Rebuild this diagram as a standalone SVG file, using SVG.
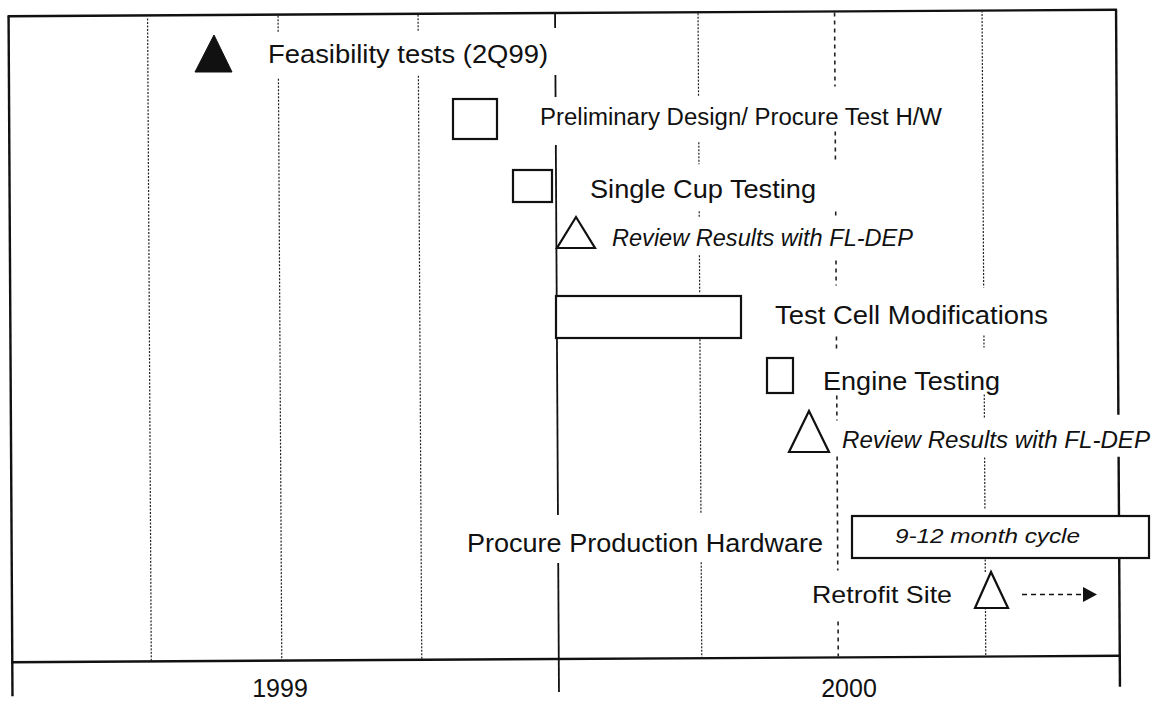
<svg xmlns="http://www.w3.org/2000/svg" width="1153" height="703" viewBox="0 0 1153 703">
<style>
  .t{font-family:"Liberation Sans",Arial,Helvetica,sans-serif;fill:#111;}
  .i{font-style:italic;}
  .shape{fill:#fff;stroke:#111;stroke-width:2.2;}
  .frame{stroke:#111;stroke-width:2.4;fill:none;}
  .solid{stroke:#111;stroke-width:1.8;}
  .dot{stroke:#222;stroke-width:1.2;stroke-dasharray:2 1.5;}
  .dash{stroke:#222;stroke-width:1.6;stroke-dasharray:4 4;}
</style>
<defs>
  <marker id="arrow" markerWidth="14" markerHeight="15" refX="0" refY="7.5" orient="auto" markerUnits="userSpaceOnUse" viewBox="0 0 14 15">
    <path d="M0,0 L14,7.5 L0,15 Z" fill="#111"/>
  </marker>
</defs>
<rect width="1153" height="703" fill="#fff"/>
<g id="grid" transform="rotate(-0.33 563 350)">
  <g id="frame">
    <line class="frame" x1="10.5" y1="13" x2="10.5" y2="693"/>
    <line class="frame" x1="9.5" y1="13" x2="1119" y2="13"/>
    <line class="frame" x1="9.5" y1="659" x2="1119" y2="659"/>
    <line class="frame" x1="1118" y1="13" x2="1118" y2="418"/>
    <line class="frame" x1="1118" y1="460" x2="1118" y2="690"/>
  </g>
  <g id="gridlines">
    <line class="dot" x1="149.5" y1="16" x2="149.5" y2="659"/>
    <line class="dot" x1="280" y1="14" x2="280" y2="30"/>
    <line class="dot" x1="280" y1="77" x2="280" y2="659"/>
    <line class="dot" x1="420" y1="14" x2="420" y2="30"/>
    <line class="dot" x1="420" y1="75" x2="420" y2="659"/>
    <line class="solid" x1="557" y1="13" x2="557" y2="28"/>
    <line class="solid" x1="557" y1="75" x2="557" y2="97"/>
    <line class="solid" x1="557" y1="145" x2="557" y2="515"/>
    <line class="solid" x1="557" y1="563" x2="557" y2="692"/>
    <line class="dot" x1="700" y1="14" x2="700" y2="97"/>
    <line class="dot" x1="700" y1="143" x2="700" y2="165"/>
    <line class="dot" x1="700" y1="212" x2="700" y2="218"/>
    <line class="dot" x1="700" y1="256" x2="700" y2="294"/>
    <line class="dot" x1="700" y1="340" x2="700" y2="514"/>
    <line class="dot" x1="700" y1="563" x2="700" y2="659"/>
    <line class="dash" x1="836.5" y1="14" x2="836.5" y2="88"/>
    <line class="dash" x1="836.5" y1="133" x2="836.5" y2="162"/>
    <line class="dash" x1="836.5" y1="213" x2="836.5" y2="217"/>
    <line class="dash" x1="836.5" y1="262" x2="836.5" y2="287"/>
    <line class="dash" x1="836.5" y1="338" x2="836.5" y2="350"/>
    <line class="dash" x1="836.5" y1="397" x2="836.5" y2="422"/>
    <line class="dash" x1="836.5" y1="458" x2="836.5" y2="572"/>
    <line class="dash" x1="836.5" y1="623" x2="836.5" y2="658"/>
    <line class="dot" x1="984" y1="13" x2="984" y2="290"/>
    <line class="dot" x1="984" y1="338" x2="984" y2="350"/>
    <line class="dot" x1="984" y1="397" x2="984" y2="420"/>
    <line class="dot" x1="984" y1="460" x2="984" y2="512"/>
    <line class="dot" x1="984" y1="562" x2="984" y2="575"/>
    <line class="dot" x1="984" y1="610" x2="984" y2="658"/>
  </g>
</g>
<g id="feasibility">
  <polygon points="214,35 195,72 232,72" fill="#111" stroke="#111" stroke-width="1"/>
  <text class="t" x="268" y="63" font-size="25" textLength="280" lengthAdjust="spacingAndGlyphs">Feasibility tests (2Q99)</text>
</g>
<g id="preliminary">
  <rect class="shape" x="453" y="99" width="44" height="40"/>
  <text class="t" x="540" y="124.5" font-size="23" textLength="402" lengthAdjust="spacingAndGlyphs">Preliminary Design/ Procure Test H/W</text>
</g>
<g id="single-cup">
  <rect class="shape" x="513" y="170" width="39" height="32"/>
  <text class="t" x="590" y="198" font-size="26" textLength="226" lengthAdjust="spacingAndGlyphs">Single Cup Testing</text>
</g>
<g id="review1">
  <polygon class="shape" points="576,217 557,248 595,248"/>
  <text class="t i" x="612" y="246" font-size="23" textLength="301" lengthAdjust="spacingAndGlyphs">Review Results with FL-DEP</text>
</g>
<g id="test-cell">
  <rect class="shape" x="556" y="296" width="185" height="42"/>
  <text class="t" x="775" y="324" font-size="25" textLength="273" lengthAdjust="spacingAndGlyphs">Test Cell Modifications</text>
</g>
<g id="engine">
  <rect class="shape" x="767" y="358" width="26" height="35"/>
  <text class="t" x="823" y="390" font-size="26" textLength="177" lengthAdjust="spacingAndGlyphs">Engine Testing</text>
</g>
<g id="review2">
  <polygon class="shape" points="809,411 789,452 829,452"/>
  <text class="t i" x="842" y="448" font-size="23" textLength="308" lengthAdjust="spacingAndGlyphs">Review Results with FL-DEP</text>
</g>
<g id="procure">
  <text class="t" x="467" y="552" font-size="25" textLength="356" lengthAdjust="spacingAndGlyphs">Procure Production Hardware</text>
  <rect class="shape" x="852" y="516" width="297" height="42"/>
  <text class="t i" x="895" y="543" font-size="21" textLength="185" lengthAdjust="spacingAndGlyphs">9-12 month cycle</text>
</g>
<g id="retrofit">
  <text class="t" x="812" y="603" font-size="24" textLength="140" lengthAdjust="spacingAndGlyphs">Retrofit Site</text>
  <polygon class="shape" points="991,572 975,608 1008,608"/>
</g>
<g id="connectors">
  <line x1="1022" y1="594.5" x2="1083" y2="594.5" stroke="#111" stroke-width="1.6" stroke-dasharray="5 4" marker-end="url(#arrow)"/>
</g>
<g id="axis-labels">
  <text class="t" x="280" y="697" font-size="25" text-anchor="middle">1999</text>
  <text class="t" x="849" y="697" font-size="25" text-anchor="middle">2000</text>
</g>
</svg>
